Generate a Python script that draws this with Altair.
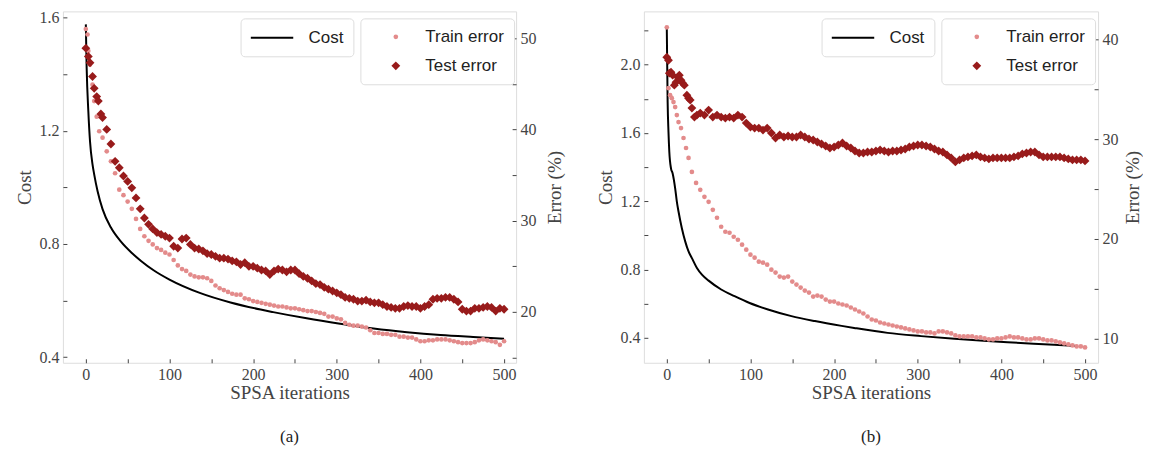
import altair as alt
import pandas as pd

# ---------------- Panel (a) ----------------
A_COST_X = [0, 1, 3, 5, 8, 10, 14, 20, 30, 42, 55, 66, 81, 100, 137, 173, 209, 224, 264, 304, 344, 384, 424, 463, 500]
A_COST_Y = [1.576, 1.422, 1.269, 1.163, 1.081, 1.046, 0.987, 0.923, 0.858, 0.808, 0.768, 0.740, 0.707, 0.674,
            0.626, 0.593, 0.568, 0.559, 0.537, 0.518, 0.501, 0.488, 0.478, 0.471, 0.465]

A_TRAIN_X = [0, 2, 3, 5, 8, 10, 13, 16, 20, 25, 30, 35, 40, 45, 50, 55, 60, 65, 70, 75, 80, 85, 90, 95, 100,
             105, 110, 115, 120, 125, 130, 135, 140, 145, 150, 155, 160, 165, 170, 175, 180, 185, 190, 195, 200,
             205, 210, 215, 220, 225, 230, 235, 240, 245, 250, 255, 260, 265, 270, 275, 280, 285, 290, 295, 300,
             305, 310, 315, 320, 325, 330, 335, 340, 345, 350, 355, 360, 365, 370, 375, 380, 385, 390, 395, 400,
             405, 410, 415, 420, 425, 430, 435, 440, 445, 450, 455, 460, 465, 470, 475, 480, 485, 490, 495, 500]
A_TRAIN_Y = [51.0, 50.4, 48.6, 47.1, 44.9, 43.1, 41.4, 39.8, 39.1, 37.6, 36.5, 35.2, 33.4, 32.8, 32.1, 31.3, 30.2,
             29.1, 28.3, 27.8, 27.4, 27.0, 26.8, 26.5, 26.3,
             25.7, 25.1, 24.7, 24.5, 24.1, 23.9, 23.8, 23.8, 23.7, 23.4, 22.9, 22.6, 22.4, 22.2, 22.0, 21.9, 21.9,
             21.5, 21.4, 21.2,
             21.1, 21.0, 20.9, 20.8, 20.7, 20.6, 20.6, 20.5, 20.4, 20.4, 20.3, 20.2, 20.1, 20.1, 20.0, 19.9, 19.8,
             19.5, 19.5, 19.3,
             19.2, 18.8, 18.6, 18.5, 18.5, 18.4, 18.3, 18.0, 17.7, 17.7, 17.6, 17.6, 17.5, 17.5, 17.3, 17.3, 17.2,
             17.2, 17.0, 16.8,
             16.8, 16.9, 16.9, 17.0, 17.0, 17.0, 16.9, 16.8, 16.7, 16.6, 16.6, 16.6, 16.7, 16.9, 17.0, 16.9, 16.8,
             16.7, 16.4, 16.8]

A_TEST_X = [0, 3, 5, 8, 10, 13, 15, 18, 20, 25, 30, 35, 40, 45, 50, 55, 60, 65, 70, 75, 80, 85, 90, 95, 100,
            105, 110, 115, 120, 125, 130, 135, 140, 145, 150, 155, 160, 165, 170, 175, 180, 185, 190, 195, 200,
            205, 210, 215, 220, 225, 230, 235, 240, 245, 250, 255, 260, 265, 270, 275, 280, 285, 290, 295, 300,
            305, 310, 315, 320, 325, 330, 335, 340, 345, 350, 355, 360, 365, 370, 375, 380, 385, 390, 395, 400,
            405, 410, 415, 420, 425, 430, 435, 440, 445, 450, 455, 460, 465, 470, 475, 480, 485, 490, 495, 500]
A_TEST_Y = [48.9, 48.0, 47.3, 45.8, 44.5, 43.6, 43.1, 41.7, 41.3, 40.0, 38.4, 36.5, 35.8, 34.9, 34.3, 33.6, 32.5,
            31.3, 30.3, 29.6, 29.1, 28.7, 28.5, 28.3, 28.1,
            27.2, 27.0, 28.0, 28.1, 27.4, 27.0, 26.9, 26.7, 26.4, 26.3, 26.1, 25.9, 25.9, 25.8, 25.6, 25.5, 25.2,
            25.4, 25.0, 25.0,
            24.8, 24.6, 24.5, 24.1, 24.5, 24.7, 24.6, 24.4, 24.6, 24.6, 24.2, 23.9, 23.7, 23.4, 23.1, 23.0, 22.7,
            22.5, 22.3, 22.1,
            21.9, 21.6, 21.5, 21.4, 21.2, 21.2, 21.3, 21.1, 21.0, 21.0, 20.8, 20.6, 20.5, 20.4, 20.4, 20.6, 20.7,
            20.6, 20.6, 20.4,
            20.6, 20.8, 21.4, 21.5, 21.5, 21.6, 21.6, 21.4, 21.1, 20.3, 20.1, 20.1, 20.4, 20.4, 20.5, 20.6, 20.5,
            20.1, 20.4, 20.3]

# ---------------- Panel (b) ----------------
B_COST_X = [0, 1, 2, 3, 5, 7, 10, 12, 14, 18, 22, 26, 30, 36, 42, 50, 65, 81, 99, 121, 149, 177, 209, 224, 264,
            304, 344, 383, 423, 463, 490]
B_COST_Y = [2.210, 1.782, 1.607, 1.490, 1.393, 1.363, 1.276, 1.198, 1.140, 1.042, 0.965, 0.906, 0.867, 0.809,
            0.770, 0.735, 0.683, 0.644, 0.604, 0.566, 0.527, 0.498, 0.470, 0.458, 0.429, 0.410, 0.394, 0.381,
            0.370, 0.359, 0.352]

B_TRAIN_X = [0, 2, 4, 6, 8, 10, 12, 14, 17, 20, 23, 26, 30, 35, 40, 45, 50, 55, 60, 65, 70, 75, 80, 85, 90, 95,
             100, 105, 110, 115, 120, 125, 130, 135, 140, 145, 150, 155, 160, 165, 170, 175, 180, 185, 190, 195,
             200, 205, 210, 215, 220, 225, 230, 235, 240, 245, 250, 255, 260, 265, 270, 275, 280, 285, 290, 295,
             300, 305, 310, 315, 320, 325, 330, 335, 340, 345, 350, 355, 360, 365, 370, 375, 380, 385, 390, 395,
             400, 405, 410, 415, 420, 425, 430, 435, 440, 445, 450, 455, 460, 465, 470, 475, 480, 485, 490, 495, 500]
B_TRAIN_Y = [41.2, 35.1, 34.4, 34.1, 33.7, 33.2, 32.4, 31.7, 31.1, 30.1, 29.1, 28.1, 26.7, 25.6, 24.9, 24.2, 23.7,
             22.9, 22.1, 21.2, 20.7, 20.6, 20.2, 19.9, 19.4, 18.9,
             18.4, 18.1, 17.7, 17.6, 17.4, 16.9, 16.6, 16.2, 16.1, 16.2, 15.7, 15.4, 15.1, 14.8, 14.6, 14.2, 14.3,
             14.2, 13.9, 13.7,
             13.7, 13.5, 13.4, 13.3, 13.1, 12.9, 12.7, 12.5, 12.2, 11.9, 11.8, 11.6, 11.5, 11.4, 11.3, 11.2, 11.1,
             11.0, 10.9, 10.8,
             10.7, 10.7, 10.6, 10.6, 10.5, 10.7, 10.7, 10.6, 10.5, 10.3, 10.2, 10.2, 10.2, 10.2, 10.1, 10.1, 10.0,
             9.9, 9.9, 10.0,
             10.0, 10.1, 10.2, 10.1, 10.1, 10.0, 9.9, 9.9, 10.0, 10.0, 9.9, 9.8, 9.8, 9.7, 9.6, 9.5, 9.4, 9.3,
             9.2, 9.2, 9.1]

B_TEST_X = [0, 2, 3, 5, 7, 9, 11, 13, 15, 17, 19, 21, 24, 26, 28, 30, 33, 36, 40, 45, 50, 55, 60, 65, 70, 75, 80,
            85, 90, 95, 100, 105, 110, 115, 120, 125, 130, 135, 140, 145, 150, 155, 160, 165, 170, 175, 180, 185,
            190, 195, 200, 205, 210, 215, 220, 225, 230, 235, 240, 245, 250, 255, 260, 265, 270, 275, 280, 285,
            290, 295, 300, 305, 310, 315, 320, 325, 330, 335, 340, 345, 350, 355, 360, 365, 370, 375, 380, 385,
            390, 395, 400, 405, 410, 415, 420, 425, 430, 435, 440, 445, 450, 455, 460, 465, 470, 475, 480, 485,
            490, 495, 500]
B_TEST_Y = [38.2, 37.9, 36.6, 36.7, 36.4, 35.4, 35.7, 36.2, 36.4, 35.9, 35.6, 35.4, 34.4, 34.1, 33.9, 33.1, 32.2,
            32.4, 32.6, 32.4, 32.9, 32.2, 32.4, 32.2, 32.1, 32.2, 32.1,
            32.4, 32.2, 31.6, 31.2, 31.1, 31.1, 30.9, 31.1, 30.6, 30.1, 30.4, 30.2, 30.3, 30.2, 30.2, 30.4, 30.2,
            30.0, 29.9, 29.7, 29.5,
            29.3, 29.1, 29.2, 29.4, 29.6, 29.3, 29.1, 28.8, 28.6, 28.6, 28.7, 28.7, 28.8, 28.9, 28.8, 28.7, 28.8,
            28.8, 28.9, 29.0,
            29.2, 29.3, 29.4, 29.4, 29.3, 29.2, 29.0, 28.8, 28.7, 28.4, 28.1, 27.7, 27.9, 28.1, 28.2, 28.3, 28.4,
            28.2, 28.1, 28.0,
            28.1, 28.1, 28.1, 28.1, 28.1, 28.2, 28.3, 28.5, 28.6, 28.7, 28.7, 28.4, 28.2, 28.2, 28.2, 28.2, 28.2,
            28.1, 28.0, 27.9,
            27.9, 27.9, 27.8]

X_TICKS = [0, 50, 100, 150, 200, 250, 300, 350, 400, 450, 500]
A_COST_TICKS = [0.4, 0.6, 0.8, 1.0, 1.2, 1.4, 1.6]
B_COST_TICKS = [0.4, 0.6, 0.8, 1.0, 1.2, 1.4, 1.6, 1.8, 2.0, 2.2]
A_ERR_TICKS = [15, 20, 25, 30, 35, 40, 45, 50]
B_ERR_TICKS = [10, 15, 20, 25, 30, 35, 40]

SERIES_ERR = ["Train error", "Test error"]
COL_TRAIN = "#e38b8b"
COL_TEST = "#981b1b"
TXT = "#444444"
SERIF = "Liberation Serif"
SANS = "Liberation Sans"


def frame(xs, ys, name):
    return pd.DataFrame({"iter": xs, "val": ys, "series": [name] * len(xs)})


def panel(cost_x, cost_y, tr_x, tr_y, te_x, te_y, xdom, cdom, cticks, edom, eticks, caption, width,
          err_title_pad):
    common_axis = dict(
        tickSize=4, offset=-4, domain=False, grid=False, ticks=True,
        tickColor=TXT, labelColor=TXT, titleColor=TXT,
        labelFont=SERIF, labelFontSize=16, titleFont=SERIF, titleFontSize=19,
        titleFontWeight="normal", labelPadding=4, labelFlush=False, labelOverlap=False,
    )
    x_enc = alt.X(
        "iter:Q",
        scale=alt.Scale(domain=xdom, nice=False, zero=False),
        axis=alt.Axis(values=X_TICKS, format="d", title="SPSA iterations",
                      labelExpr="datum.value % 100 === 0 ? datum.label : ''",
                      titlePadding=1, **common_axis),
    )
    cost_df = frame(cost_x, cost_y, "Cost")
    err_df = pd.concat([frame(tr_x, tr_y, "Train error"), frame(te_x, te_y, "Test error")])

    cost = alt.Chart(cost_df).mark_line(strokeWidth=2, clip=True, interpolate="monotone").encode(
        x=x_enc,
        y=alt.Y("val:Q", scale=alt.Scale(domain=cdom, nice=False, zero=False),
                axis=alt.Axis(values=cticks, format=".1f", title="Cost", orient="left",
                              labelExpr="round(datum.value * 10) % 4 === 0 ? datum.label : ''",
                              titlePadding=4, **common_axis)),
        stroke=alt.Stroke("series:N", scale=alt.Scale(domain=["Cost"], range=["black"]),
                          legend=alt.Legend(title=None, orient="none", legendX=178, legendY=7,
                                            symbolType="M-2.5,0H2.5", symbolSize=289, symbolStrokeWidth=2,
                                            symbolOffset=12, labelOffset=27,
                                            labelFont=SANS, labelFontSize=17, labelColor="#222",
                                            padding=10, fillColor="white",
                                            strokeColor="#dddddd", cornerRadius=4)),
    )
    err_legend = alt.Legend(title=None, orient="none", legendX=298, legendY=7,
                            labelFont=SANS, labelFontSize=17, labelColor="#222",
                            labelOffset=21, symbolOffset=17, rowPadding=11, padding=10,
                            fillColor="white", strokeColor="#dddddd", cornerRadius=4)
    errs = alt.Chart(err_df).mark_point(filled=True, clip=True, opacity=1).encode(
        x=x_enc,
        y=alt.Y("val:Q", scale=alt.Scale(domain=edom, nice=False, zero=False),
                axis=alt.Axis(values=eticks, format="d", title="Error (%)", orient="right",
                              titleAngle=270, titleBaseline="top",
                              labelExpr="datum.value % 10 === 0 ? datum.label : ''",
                              titlePadding=err_title_pad, **common_axis)),
        fill=alt.Fill("series:N", scale=alt.Scale(domain=SERIES_ERR, range=[COL_TRAIN, COL_TEST]),
                      legend=err_legend),
        shape=alt.Shape("series:N", scale=alt.Scale(domain=SERIES_ERR, range=["circle", "diamond"]),
                        legend=err_legend),
        size=alt.Size("series:N", scale=alt.Scale(domain=SERIES_ERR, range=[22, 78]),
                      legend=err_legend),
        order=alt.Order("series:N", sort="descending"),
    )
    return alt.layer(cost, errs).resolve_scale(y="independent").properties(
        width=width, height=352,
        title=alt.TitleParams(caption, orient="bottom", anchor="middle", frame="group",
                              font=SERIF, fontSize=17, fontWeight="normal", color="#222", offset=26),
    )


pa = panel(A_COST_X, A_COST_Y, A_TRAIN_X, A_TRAIN_Y, A_TEST_X, A_TEST_Y, [-27.4, 514.4],
           [0.38, 1.622], A_COST_TICKS, [14.44, 52.93], A_ERR_TICKS, "(a)", 454, 9)
pb = panel(B_COST_X, B_COST_Y, B_TRAIN_X, B_TRAIN_Y, B_TEST_X, B_TEST_Y, [-27.4, 515.6],
           [0.254, 2.312], B_COST_TICKS, [7.56, 42.8], B_ERR_TICKS, "(b)", 455, 5)

chart = alt.hconcat(pa, pb, spacing=31).resolve_scale(
    stroke="independent", fill="independent", shape="independent", size="independent"
).resolve_legend(
    stroke="independent", fill="independent", shape="independent", size="independent"
).properties(
    padding={"left": 7, "top": 0, "right": 0, "bottom": 0}
).configure_view(
    stroke="#555555", strokeWidth=1
).configure(background="white")

chart.save("out.html", embed_options={"renderer": "svg", "actions": False})
